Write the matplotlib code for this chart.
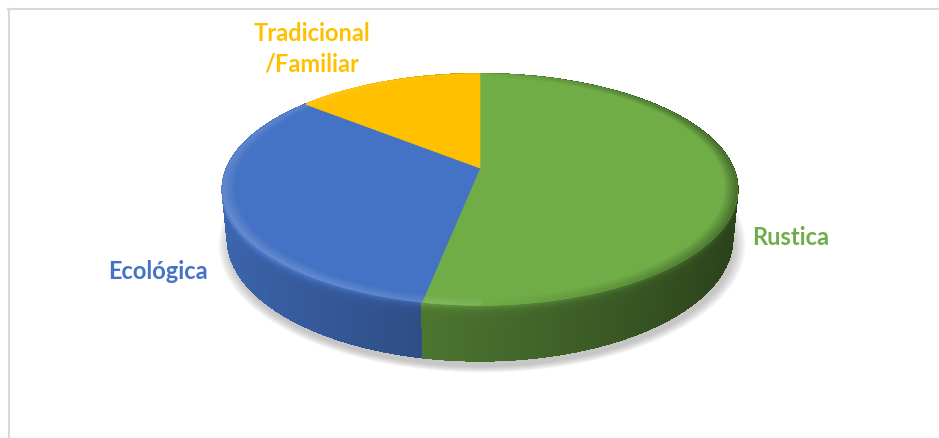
import numpy as np
import matplotlib.pyplot as plt
from matplotlib.patches import Polygon
from matplotlib.collections import PolyCollection
from matplotlib.colors import to_rgb

labels = ['Rustica', 'Ecológica', 'Tradicional\n/Familiar']
values = [53, 33, 14]
colors = ['#70AD47', '#4472C4', '#FFC000']

# simple perspective camera for the 3-D pie
tilt = np.radians(26.2)
dist = 4.82
focal = 1220
cx, cy = 480, 169
thick = 0.215


def project(x, y, z):
    depth = dist + y * np.cos(tilt) - z * np.sin(tilt)
    up = y * np.sin(tilt) + z * np.cos(tilt)
    return cx + focal * x / depth, cy - focal * up / depth


def depth_of(x, y, z):
    return dist + y * np.cos(tilt) - z * np.sin(tilt)


def shade(col, k):
    c = np.array(to_rgb(col))
    if k >= 1:
        return tuple(np.clip(c + (1 - c) * (k - 1), 0, 1))
    return tuple(c * k)


fig = plt.figure(figsize=(9.39, 4.39), dpi=100)
ax = fig.add_axes([0, 0, 1, 1])
ax.set_xlim(0, 939)
ax.set_ylim(439, 0)
ax.axis('off')

# chart border
ax.plot([8, 939], [10, 10], color='#D9D9D9', lw=1.5)
ax.plot([8.5, 8.5], [10, 439], color='#D9D9D9', lw=1.5)

total = sum(values)
bounds = np.concatenate([[0], np.cumsum(values)]) / total * 2 * np.pi

# soft shadow under the pie
th = np.linspace(0, 2 * np.pi, 400)
sx, sy = project(np.sin(th), np.cos(th), -thick)
mx, my = sx.mean(), sy.mean()
for i in range(12):
    s = 1.0 + i * 0.004
    pts = np.column_stack([mx + (sx - mx) * s + 2, my + (sy - my) * s + 6])
    ax.add_patch(Polygon(pts, closed=True, fc='#808080', ec='none', alpha=0.045, zorder=1))

# side wall, drawn back to front as thin columns with a vertical gradient
quads, qcols, qdep = [], [], []
zf = np.array([0, 0.02, 0.04, 0.07, 0.1, 0.14, 0.19, 0.25, 0.33, 0.45, 0.6, 0.8, 1.0])
for col, a, b in zip(colors, bounds[:-1], bounds[1:]):
    n = max(int((b - a) / (2 * np.pi) * 540), 4)
    t = np.linspace(a, b, n + 1)
    for t0, t1 in zip(t[:-1], t[1:]):
        tm = 0.5 * (t0 + t1)
        k = 0.63 - 0.27 * np.sin(tm)
        for r in range(len(zf) - 1):
            z0 = -thick * zf[r]
            z1 = -thick * zf[r + 1]
            x0, y0 = project(np.sin(t0), np.cos(t0), z0)
            x1, y1 = project(np.sin(t1), np.cos(t1), z0)
            x2, y2 = project(np.sin(t1), np.cos(t1), z1)
            x3, y3 = project(np.sin(t0), np.cos(t0), z1)
            quads.append([(x0, y0), (x1, y1), (x2, y2), (x3, y3)])
            f = 0.5 * (zf[r] + zf[r + 1])
            kk = k * (1 + 0.3 * np.exp(-f / 0.06))
            qcols.append(shade(col, kk))
            qdep.append(depth_of(np.sin(tm), np.cos(tm), 0) + 0.001 * r)
order = np.argsort(qdep)[::-1]
ax.add_collection(PolyCollection([quads[i] for i in order],
                                 facecolors=[qcols[i] for i in order],
                                 edgecolors=[qcols[i] for i in order],
                                 linewidths=0.8, antialiaseds=False, zorder=2))

# top faces
for col, a, b in zip(colors, bounds[:-1], bounds[1:]):
    t = np.linspace(a, b, 200)
    x, y = project(np.sin(t), np.cos(t), 0)
    pts = np.vstack([[cx, cy], np.column_stack([x, y])])
    ax.add_patch(Polygon(pts, closed=True, fc=col, ec=col, lw=0.5, zorder=3))

# bevel along the rim of the top
ring, rcols = [], []
radii = np.linspace(0.955, 1.0, 6)
for col, a, b in zip(colors, bounds[:-1], bounds[1:]):
    n = max(int((b - a) / (2 * np.pi) * 360), 4)
    t = np.linspace(a, b, n + 1)
    for t0, t1 in zip(t[:-1], t[1:]):
        tm = 0.5 * (t0 + t1)
        if np.sin(tm) > 0:
            edge = 1 - 0.35 * np.sin(tm)
        else:
            edge = 1 + 0.25 * (-np.sin(tm) * 0.6 + 0.4 * max(0, -np.cos(tm)))
        for j, (r0, r1) in enumerate(zip(radii[:-1], radii[1:])):
            w = (j + 1) / (len(radii) - 1)
            k = 1 + (edge - 1) * w
            p0 = project(r0 * np.sin(t0), r0 * np.cos(t0), 0)
            p1 = project(r0 * np.sin(t1), r0 * np.cos(t1), 0)
            p2 = project(r1 * np.sin(t1), r1 * np.cos(t1), 0)
            p3 = project(r1 * np.sin(t0), r1 * np.cos(t0), 0)
            ring.append([p0, p1, p2, p3])
            rcols.append(shade(col, k))
ax.add_collection(PolyCollection(ring, facecolors=rcols, edgecolors=rcols,
                                 linewidths=0.3, zorder=4))

# data labels
font = dict(family='Lato', weight='bold', fontsize=17)
ax.text(791, 238, labels[0], color=colors[0], ha='center', va='center', **font)
ax.text(158, 272, labels[1], color=colors[1], ha='center', va='center', **font)
ax.text(312, 49, labels[2], color=colors[2], ha='center', va='center',
        linespacing=1.4, **font)

fig.savefig('out.png', dpi=100)
